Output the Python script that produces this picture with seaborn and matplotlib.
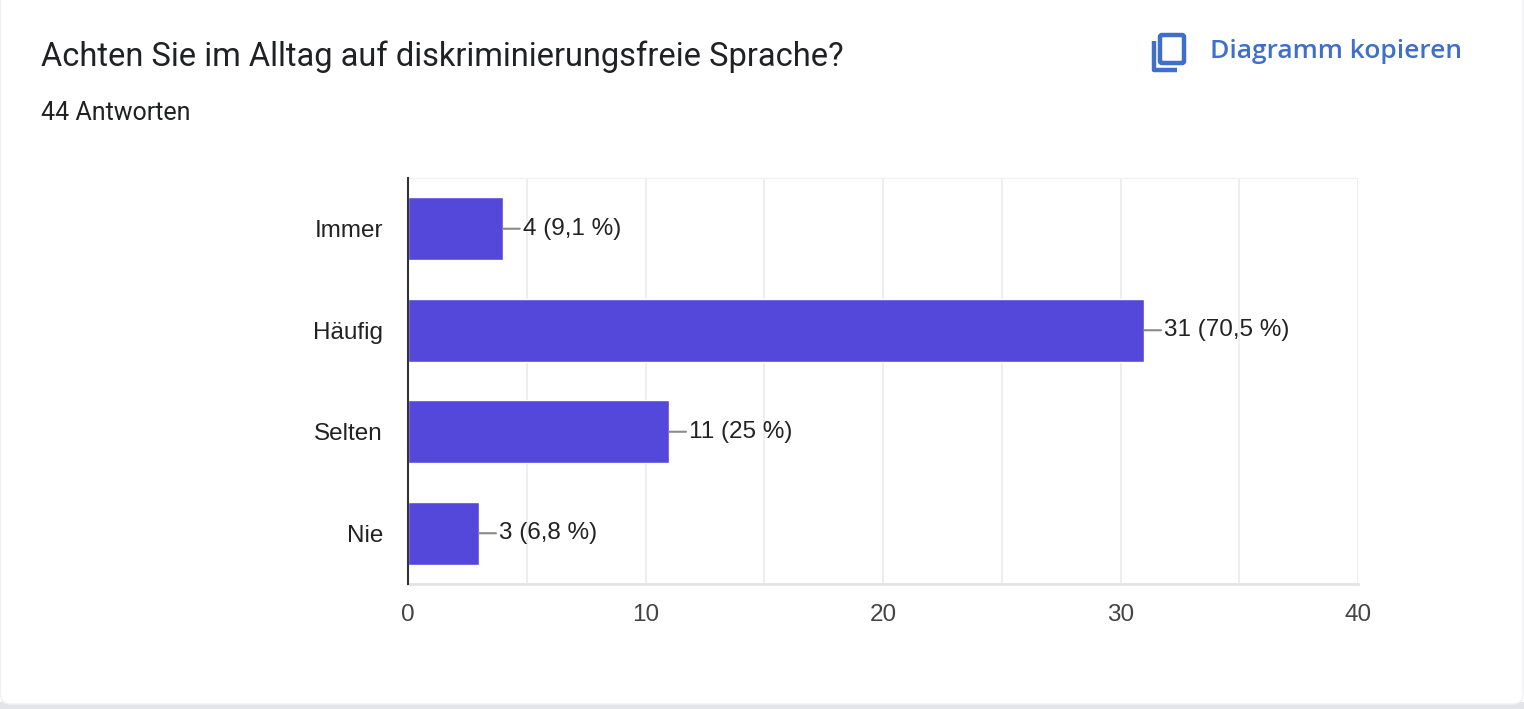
import matplotlib
matplotlib.use("Agg")
import matplotlib.pyplot as plt
import seaborn as sns
import pandas as pd
from matplotlib.patches import FancyBboxPatch, Rectangle
from matplotlib.lines import Line2D

# ---- data ----
categories = ["Immer", "Häufig", "Selten", "Nie"]
counts = [4, 31, 11, 3]
value_labels = ["4 (9,1 %)", "31 (70,5 %)", "11 (25 %)", "3 (6,8 %)"]
x_ticks = [0, 10, 20, 30, 40]
title = "Achten Sie im Alltag auf diskriminierungsfreie Sprache?"
subtitle = "44 Antworten"
copy_label = "Diagramm kopieren"

df = pd.DataFrame({"Kategorie": categories, "Anzahl": counts})

sns.set_theme(style="white")
plt.rcParams["font.family"] = ["Liberation Sans", "DejaVu Sans"]

W, H = 1524, 709
fig = plt.figure(figsize=(W / 100, H / 100), dpi=100)
fig.patch.set_facecolor("white")

# overlay for card + header
ov = fig.add_axes([0, 0, 1, 1], zorder=0)
ov.set_xlim(0, W)
ov.set_ylim(H, 0)
ov.axis("off")
ov.add_patch(Rectangle((0, 702), W, 10, facecolor="#e3e3ea", edgecolor="none"))
card = FancyBboxPatch((0.5, -20), W - 1.5, 724, boxstyle="round,pad=0,rounding_size=10",
                      facecolor="white", edgecolor="#f0f0f3", linewidth=1.0)
ov.add_patch(card)
ov.text(41, 57, title, fontsize=23.5, family=["Roboto", "DejaVu Sans"], color="#202124",
        va="center", ha="left")
ov.text(41, 113, subtitle, fontsize=18, family=["Roboto", "DejaVu Sans"], color="#202124",
        va="center", ha="left")
blue = "#3f6fc8"
ov.text(1210, 52, copy_label, fontsize=19, family=["Open Sans", "DejaVu Sans"],
        fontweight="semibold", color=blue, va="center", ha="left")
# copy icon
ov.add_patch(FancyBboxPatch((1160, 35), 24, 28, boxstyle="round,pad=0,rounding_size=2",
                            facecolor="none", edgecolor=blue, linewidth=3.2))
ov.add_line(Line2D([1154, 1154, 1177], [41, 70, 70], color=blue, linewidth=3.2,
                   solid_joinstyle="round", solid_capstyle="butt"))

# chart axes
left, right, top, bottom = 408, 1358, 178, 584
ax = fig.add_axes([left / W, 1 - bottom / H, (right - left) / W, (bottom - top) / H], zorder=1)
ax.set_facecolor("white")

sns.barplot(data=df, y="Kategorie", x="Anzahl", orient="h", color="#5448DB",
            saturation=1, width=0.62, ax=ax, zorder=3)

ax.set_xlim(0, 40)
ax.set_ylim(3.5, -0.5)
ax.set_xticks(x_ticks)
ax.set_xticks([5, 15, 25, 35], minor=True)
ax.grid(True, axis="x", which="both", color="#ebebeb", linewidth=1.2, zorder=0)
ax.set_xlabel("")
ax.set_ylabel("")

ax.spines["right"].set_visible(False)
ax.spines["top"].set_color("#f2f2f2")
ax.spines["top"].set_linewidth(1)
ax.spines["bottom"].set_color("#e3e3e3")
ax.spines["bottom"].set_linewidth(2)
ax.spines["left"].set_color("#333333")
ax.spines["left"].set_linewidth(1.5)
ax.spines["left"].set_zorder(5)

ax.tick_params(axis="x", which="both", length=0, pad=14.5, labelsize=17.5, labelcolor="#444444")
ax.tick_params(axis="y", length=0, pad=18, labelsize=17.5, labelcolor="#222222")

for i, (v, lab) in enumerate(zip(counts, value_labels)):
    ax.annotate(lab, xy=(v, i), xytext=(20, 0), textcoords="offset pixels",
                va="center", ha="left", fontsize=17.5, color="#222222",
                arrowprops=dict(arrowstyle="-", color="#8a8a8a", lw=1.5,
                                shrinkA=0, shrinkB=0))

fig.savefig("out.png", dpi=100, facecolor=fig.get_facecolor())
